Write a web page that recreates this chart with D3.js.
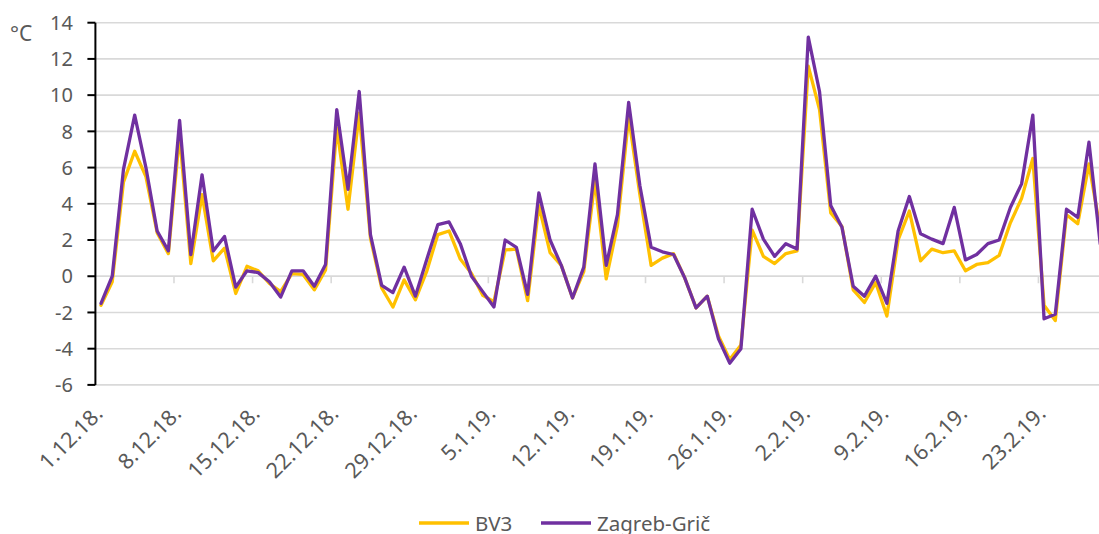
<!DOCTYPE html>
<html>
<head>
<meta charset="utf-8">
<script src="https://cdn.jsdelivr.net/npm/d3@7"></script>
<style>
  html, body { margin: 0; padding: 0; background: #fff; }
  svg { display: block; }
  text { font-family: "Noto Sans", "Open Sans", sans-serif; fill: #595959; }
</style>
</head>
<body>
<svg id="chart" width="1099" height="534"></svg>
<script>
// Daily air temperature, 1 Dec 2018 – 28 Feb 2019
const startDate = new Date(2018, 11, 1);
const endDate = new Date(2019, 2, 1);
const fmt = d3.timeFormat("%-d.%-m.%y.");
const categories = d3.timeDays(startDate, endDate).map(fmt);

const seriesNames = ["BV3", "Zagreb-Grič"];
const seriesColors = ["#FFC000", "#7030A0"];

const bv3 = [
  -1.6, -0.3, 5.2, 6.9, 5.5, 2.4, 1.25, 7.8, 0.7, 4.5,
  0.85, 1.55, -0.95, 0.55, 0.3, -0.4, -0.85, 0.15, 0.1, -0.75,
  0.35, 8.2, 3.7, 9.0, 2.1, -0.65, -1.7, -0.2, -1.3, 0.25,
  2.3, 2.5, 0.95, 0.15, -1.05, -1.4, 1.45, 1.5, -1.35, 3.9,
  1.3, 0.6, -1.2, 0.25, 5.3, -0.15, 2.8, 8.8, 4.5, 0.6,
  1.0, 1.25, -0.1, -1.75, -1.1, -3.3, -4.6, -3.8, 2.55, 1.1,
  0.7, 1.25, 1.4, 11.6, 9.2, 3.5, 2.75, -0.75, -1.45, -0.35,
  -2.2, 2.0, 3.6, 0.85, 1.5, 1.3, 1.4, 0.3, 0.65, 0.75,
  1.15, 2.95, 4.3, 6.5, -1.6, -2.45, 3.4, 2.9, 6.2, 2.6
];

const zagrebGric = [
  -1.5, 0.0, 5.9, 8.9, 6.0, 2.5, 1.4, 8.6, 1.2, 5.6,
  1.4, 2.2, -0.6, 0.3, 0.2, -0.3, -1.15, 0.3, 0.3, -0.55,
  0.65, 9.2, 4.8, 10.2, 2.3, -0.5, -0.9, 0.5, -1.1, 0.9,
  2.85, 3.0, 1.8, 0.0, -0.85, -1.7, 2.0, 1.6, -1.0, 4.6,
  2.0, 0.6, -1.2, 0.5, 6.2, 0.6, 3.4, 9.6, 5.0, 1.6,
  1.35, 1.2, -0.1, -1.75, -1.1, -3.45, -4.8, -4.0, 3.7, 2.05,
  1.1, 1.8, 1.5, 13.2, 10.2, 3.9, 2.7, -0.55, -1.1, 0.0,
  -1.5, 2.5, 4.4, 2.35, 2.05, 1.8, 3.8, 0.9, 1.2, 1.8,
  2.0, 3.8, 5.1, 8.9, -2.35, -2.1, 3.7, 3.25, 7.4, 1.8
];

const yTicks = [-6, -4, -2, 0, 2, 4, 6, 8, 10, 12, 14];
const tickEvery = 7;
const xTickLabels = categories.filter((d, i) => i % tickEvery === 0);
const unitLabel = "°C";

// layout
const plotLeft = 95.4, plotRight = 1105.8, plotTop = 22.7, plotBottom = 384.9;

const svg = d3.select("#chart");

const x = d3.scaleBand().domain(categories).range([plotLeft, plotRight]).padding(0);
const y = d3.scaleLinear().domain([-6, 14]).range([plotBottom, plotTop]);
const cx = d => x(d) + x.bandwidth() / 2;

// horizontal gridlines
svg.append("g")
  .selectAll("line")
  .data(yTicks)
  .join("line")
  .attr("x1", plotLeft).attr("x2", plotRight)
  .attr("y1", d => y(d)).attr("y2", d => y(d))
  .attr("stroke", "#d9d9d9").attr("stroke-width", 1.6);

// category axis crossing at 0, ticks between categories every week
const x0 = y(0);
svg.append("line")
  .attr("x1", plotLeft).attr("x2", plotRight)
  .attr("y1", x0).attr("y2", x0)
  .attr("stroke", "#d9d9d9").attr("stroke-width", 1.6);

const tickCats = categories.filter((d, i) => i % tickEvery === 0 && i > 0);
svg.append("g")
  .selectAll("line")
  .data(tickCats)
  .join("line")
  .attr("x1", d => x(d)).attr("x2", d => x(d))
  .attr("y1", x0).attr("y2", x0 + 7)
  .attr("stroke", "#d9d9d9").attr("stroke-width", 1.6);

// rotated date labels below the plot
svg.append("g")
  .selectAll("text")
  .data(xTickLabels)
  .join("text")
  .attr("transform", d => `translate(${cx(d) + 3},${415}) rotate(-45)`)
  .attr("text-anchor", "end")
  .attr("font-size", 21.5)
  .text(d => d);

// value axis
const yAxis = svg.append("g");
yAxis.append("line")
  .attr("x1", plotLeft).attr("x2", plotLeft)
  .attr("y1", plotTop).attr("y2", plotBottom)
  .attr("stroke", "#000").attr("stroke-width", 2);
yAxis.selectAll("line.tick")
  .data(yTicks)
  .join("line")
  .attr("class", "tick")
  .attr("x1", plotLeft - 8).attr("x2", plotLeft)
  .attr("y1", d => y(d)).attr("y2", d => y(d))
  .attr("stroke", "#000").attr("stroke-width", 2);
yAxis.selectAll("text")
  .data(yTicks)
  .join("text")
  .attr("x", 73)
  .attr("y", d => y(d))
  .attr("dy", "0.36em")
  .attr("text-anchor", "end")
  .attr("font-size", 20)
  .text(d => d);

svg.append("text")
  .attr("x", 10).attr("y", 41)
  .attr("font-size", 21)
  .text(unitLabel);

// series lines
const line = d3.line()
  .x((v, i) => cx(categories[i]))
  .y(v => y(v));

[bv3, zagrebGric].forEach((vals, k) => {
  svg.append("path")
    .datum(vals)
    .attr("d", line)
    .attr("fill", "none")
    .attr("stroke", seriesColors[k])
    .attr("stroke-width", 3.3)
    .attr("stroke-linejoin", "round")
    .attr("stroke-linecap", "round");
});

// legend
const legendItems = [
  { name: seriesNames[0], color: seriesColors[0], x: 419 },
  { name: seriesNames[1], color: seriesColors[1], x: 541 }
];
const lg = svg.append("g").selectAll("g").data(legendItems).join("g")
  .attr("transform", d => `translate(${d.x},523)`);
lg.append("line")
  .attr("x1", 0).attr("x2", 50).attr("y1", 0).attr("y2", 0)
  .attr("stroke", d => d.color).attr("stroke-width", 3.3);
lg.append("text")
  .attr("x", 56).attr("y", 8)
  .attr("font-size", 20.5)
  .text(d => d.name);
</script>
</body>
</html>
